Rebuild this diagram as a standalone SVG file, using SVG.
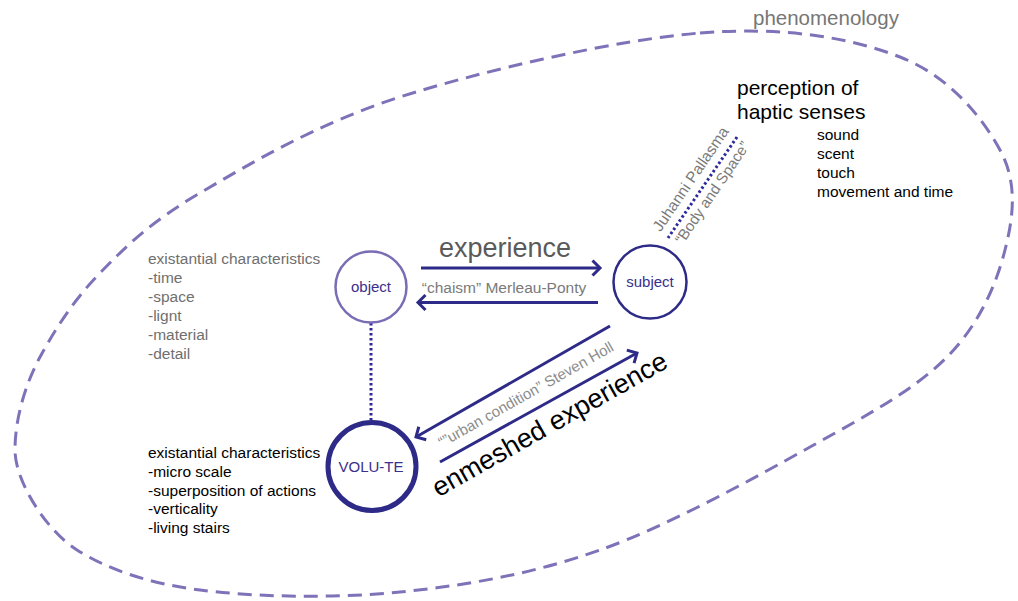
<svg xmlns="http://www.w3.org/2000/svg" width="1018" height="601" viewBox="0 0 1018 601">
<style>
.t{font-family:"Liberation Sans",Arial,sans-serif}
.gray{fill:#6f6f6f}
.blk{fill:#000}
.nodelab{fill:#3a2f8c;font-size:15px;text-anchor:middle}
.arrow{stroke:#2e2a87;stroke-width:3;fill:none}
.dots{stroke:#2e2a9a;stroke-width:3;fill:none;stroke-dasharray:2.5 2.5}
</style>
<defs>
<marker id="chev" markerUnits="userSpaceOnUse" viewBox="0 0 10 17" refX="8.5" refY="8.5" markerWidth="10" markerHeight="17" orient="auto" overflow="visible">
<path d="M1,1 L8.5,8.5 L1,16" fill="none" stroke="#2e2a87" stroke-width="3"/>
</marker>
</defs>
<rect width="1018" height="601" fill="#fff"/>
<g id="phenomenology">
<path d="M700,33 C783.3,26.3 850,37.5 900,57 C950,76.5 982.5,117.8 1000,150 C1017.5,182.2 1013.8,215.5 1005,250 C996.2,284.5 979.5,324.2 947,357 C914.5,389.8 867.8,414.8 810,447 C752.2,479.2 668.3,525.8 600,550 C531.7,574.2 466.7,585.3 400,592 C333.3,598.7 253.8,597 200,590 C146.2,583 107,568.8 77,550 C47,531.2 15,482 15,450 C15,418 25.8,383.2 40,357 C54.2,330.8 73.3,300.3 100,273 C126.7,245.7 150,222.3 200,193 C250,163.7 316.7,123.7 400,97 C483.3,70.3 616.7,39.7 700,33 Z" fill="none" stroke="#7f72b8" stroke-width="3" stroke-dasharray="14 8"/>
<text class="t" x="753" y="25" font-size="20.5" fill="#767676">phenomenology</text>
</g>
<g id="connectors">
<line class="arrow" x1="421" y1="268" x2="600" y2="268" marker-end="url(#chev)"/>
<line class="arrow" x1="598" y1="302.5" x2="418" y2="302.5" marker-end="url(#chev)"/>
<line class="arrow" x1="610" y1="326" x2="416" y2="437" marker-end="url(#chev)"/>
<line class="arrow" x1="440" y1="462" x2="637" y2="353" marker-end="url(#chev)"/>
<line class="dots" x1="371" y1="323" x2="371" y2="420"/>
<line class="dots" x1="737" y1="137" x2="668" y2="238"/>
<text class="t" x="505" y="257" font-size="27" fill="#5a5a5a" text-anchor="middle">experience</text>
<text class="t" x="504" y="293" font-size="15.5" fill="#7a7a7a" text-anchor="middle">“chaism” Merleau-Ponty</text>
<text class="t" font-size="15" fill="#8c8c8c" text-anchor="middle" transform="translate(528.4,398.9) rotate(-29.5)">“”urban condition” Steven Holl</text>
<text class="t" font-size="27" fill="#000" text-anchor="middle" transform="translate(554,432) rotate(-29.5)">enmeshed experience</text>
<text class="t" font-size="15.5" fill="#7a7a7a" text-anchor="middle" transform="translate(695,182) rotate(-55.7)">Juhanni Pallasma</text>
<text class="t" font-size="15" fill="#7a7a7a" text-anchor="middle" transform="translate(716.5,195.5) rotate(-55.7)">“Body and Space”</text>
</g>
<g id="object">
<circle cx="371" cy="287" r="35.5" fill="#fff" stroke="#7b6db5" stroke-width="2.5"/>
<text class="t nodelab" x="371" y="292">object</text>
</g>
<g id="subject">
<circle cx="650" cy="282" r="36.5" fill="#fff" stroke="#2e2a87" stroke-width="2.5"/>
<text class="t nodelab" x="650" y="287" font-size="15.5">subject</text>
</g>
<g id="volute">
<circle cx="372" cy="466.5" r="44" fill="#fff" stroke="#2e2a87" stroke-width="5"/>
<text class="t nodelab" x="371" y="472">VOLU-TE</text>
</g>
<g id="object-characteristics" class="t gray" font-size="15.5">
<text x="148" y="264">existantial characteristics</text>
<text x="148" y="283">-time</text>
<text x="148" y="302">-space</text>
<text x="148" y="321">-lignt</text>
<text x="148" y="340">-material</text>
<text x="148" y="359">-detail</text>
</g>
<g id="volute-characteristics" class="t blk" font-size="15.5">
<text x="148" y="458">existantial characteristics</text>
<text x="148" y="477">-micro scale</text>
<text x="148" y="496">-superposition of actions</text>
<text x="148" y="514">-verticality</text>
<text x="148" y="533">-living stairs</text>
</g>
<g id="haptic" class="t blk">
<text x="737" y="95" font-size="21">perception of</text>
<text x="737" y="119" font-size="21">haptic senses</text>
<text x="817" y="140" font-size="15.5">sound</text>
<text x="817" y="159" font-size="15.5">scent</text>
<text x="817" y="178" font-size="15.5">touch</text>
<text x="817" y="197" font-size="15.5">movement and time</text>
</g>
</svg>
